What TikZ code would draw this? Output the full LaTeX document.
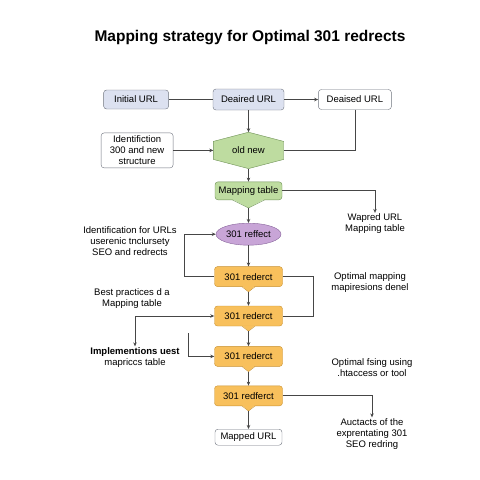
\documentclass[tikz,border=0pt]{standalone}
\usepackage{fontspec}
\setmainfont{Liberation Sans}
\usepackage{tikz}
\usetikzlibrary{arrows.meta,positioning,backgrounds,calc,shapes.geometric}
\definecolor{mline}{RGB}{70,70,70}
\definecolor{mgray}{RGB}{110,115,125}
\definecolor{mlav}{RGB}{220,225,240}
\definecolor{mgreen}{RGB}{190,220,160}
\definecolor{mgreend}{RGB}{110,145,85}
\definecolor{mpurp}{RGB}{200,165,215}
\definecolor{mpurpd}{RGB}{135,100,155}
\definecolor{morange}{RGB}{248,192,92}
\definecolor{moranged}{RGB}{200,145,50}
\tikzset{
  base/.style  ={rectangle, rounded corners=3pt, align=center, inner sep=2pt,
                 font=\fontsize{9.5}{11}\selectfont},
  url/.style   ={base, draw=mgray, fill=mlav, minimum height=19pt},
  wbox/.style  ={base, draw=mgray, fill=white},
  hexa/.style  ={draw=mgreend, fill=mgreen},
  gbox/.style  ={base, draw=mgreend, fill=mgreen, minimum width=67pt, minimum height=18pt},
  obox/.style  ={base, draw=moranged, fill=morange, minimum width=68pt, minimum height=20pt},
  oval/.style  ={ellipse, draw=mpurpd, fill=mpurp, inner sep=0pt,
                 minimum width=65pt, minimum height=22pt,
                 font=\fontsize{9.5}{11}\selectfont},
  note/.style  ={align=center, inner sep=1pt, font=\fontsize{9.5}{11}\selectfont},
  ar/.style    ={-{Stealth[length=4pt,width=3.5pt]}, draw=mline, line width=0.7pt},
  ln/.style    ={draw=mline, line width=0.7pt}
}
% pointed tip under a box: node, half width, depth, fill, border
\newcommand{\boxtip}[5]{%
  \fill[#4] ([xshift=-#2,yshift=0.8pt]#1.south) -- ([yshift=-#3]#1.south)
    -- ([xshift=#2,yshift=0.8pt]#1.south) -- cycle;
  \draw[#5, line width=0.4pt, line join=round] ([xshift=-#2]#1.south)
    -- ([yshift=-#3]#1.south) -- ([xshift=#2]#1.south);
  \coordinate (#1tip) at ([yshift=-#3]#1.south);}
\begin{document}
\begin{tikzpicture}[x=1pt, y=1pt, node distance=20pt]
\useasboundingbox (0,0) rectangle (480,-480);
\node[font=\fontsize{15.5}{18}\selectfont\bfseries] (title) at (250,-38)
  {Mapping strategy for Optimal 301 redrects};
% top row
\node[url, minimum width=71pt, minimum height=21pt] (deaired) at (248.5,-99.5) {Deaired URL};
\node[url, minimum width=65pt, left=44pt of deaired] (initial) {Initial URL};
\node[wbox, minimum width=73pt, minimum height=20pt, right=34pt of deaired] (deaised) {Deaised URL};
% main column
\node[minimum width=70pt, minimum height=36pt, inner sep=0pt, below=22pt of deaired,
  font=\fontsize{9.5}{11}\selectfont] (oldnew) {old new};
\node[wbox, minimum width=72pt, minimum height=35pt, left=40pt of oldnew] (ident)
  {Identifiction\\300 and new\\structure};
\node[gbox, below=13pt of oldnew] (maptab) {Mapping table};
\node[oval, below=23pt of maptab] (reff) {301 reffect};
\node[obox, below=21pt of reff] (red1) {301 rederct};
\node[obox, below=19pt of red1] (red2) {301 rederct};
\node[obox, below=20pt of red2] (red3) {301 rederct};
\node[obox, below=19pt of red3] (red4) {301 redferct};
\node[wbox, minimum width=67pt, minimum height=16pt, below=23pt of red4] (mapped) {Mapped URL};
\begin{scope}[on background layer]
\draw[hexa] ([yshift=9pt]oldnew.west) -- (oldnew.north) -- ([yshift=9pt]oldnew.east)
  -- ([yshift=-9pt]oldnew.east) -- (oldnew.south) -- ([yshift=-9pt]oldnew.west) -- cycle;
\end{scope}
\boxtip{maptab}{16pt}{8pt}{mgreen}{mgreend}
\boxtip{red1}{6.5pt}{5pt}{morange}{moranged}
\boxtip{red2}{6.5pt}{5pt}{morange}{moranged}
\boxtip{red3}{6.5pt}{5pt}{morange}{moranged}
\boxtip{red4}{6.5pt}{5pt}{morange}{moranged}
% side notes
\node[note] (wapred) at (375,-224) {Wapred URL\\Mapping table};
\node[note] (idurl) at (130,-241.5) {Identification for URLs\\userenic tnclursety\\SEO and redrects};
\node[note] (optmap) at (370,-283) {Optimal mapping\\mapiresions denel};
\node[note] (bestp) at (132,-298.5) {Best practices d a\\Mapping table};
\node[note] (impl) at (135,-357.5) {\textbf{Implementions uest}\\mapriccs table};
\node[note] (optfs) at (372,-368) {Optimal fsing using\\.htaccess or tool};
\node[note] (aucts) at (372,-434) {Auctacts of the\\exprentating 301\\SEO redring};
\coordinate (bp) at (impl.north |- red2.west);
\coordinate (ls) at (188,-333);
% connectors
\draw[ln] (initial) -- (deaired);
\draw[ar] (deaired) -- (deaised);
\draw[ar] (deaired) -- (oldnew);
\draw[ar] (ident) -- (oldnew);
\draw[ln] (deaised.south) |- (oldnew.east);
\draw[ar] (oldnew) -- (maptab);
\draw[ar] (maptab.east) -| (wapred.north);
\draw[ar] (maptabtip) -- (reff);
\draw[ar] (red1.west) -- ++(-30,0) |- (reff.west);
\draw[ar] (reff) -- (red1);
\draw[ln] (red1.east) -- ++(31,0) |- (red2.east);
\draw[ar] (red1tip) -- (red2);
\draw[ar] (bp) -- (red2.west);
\draw[ar] (bp) -- (impl.north);
\draw[ar] (ls) |- (red3.west);
\draw[ar] (red2tip) -- (red3);
\draw[ar] (red3tip) -- (red4);
\draw[ar] (red4.east) -| (aucts.north);
\draw[ar] (red4tip) -- (mapped);
\end{tikzpicture}
\end{document}
